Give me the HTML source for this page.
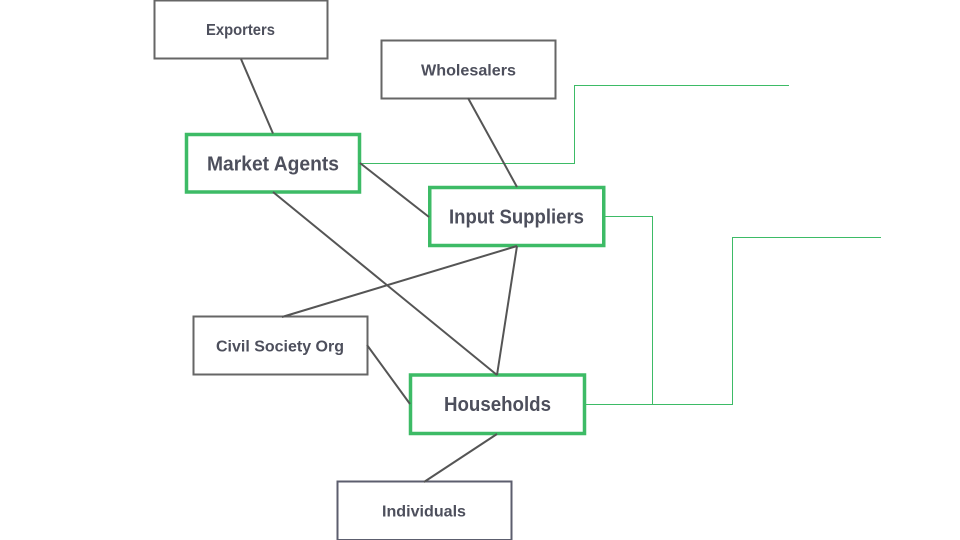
<!DOCTYPE html>
<html><head><meta charset="utf-8"><style>
html,body{margin:0;padding:0;background:#fff;width:960px;height:540px;overflow:hidden}
svg{display:block}
text{font-family:"Liberation Sans",sans-serif;font-weight:700;fill:#4d4f5c;text-anchor:middle}
.s{font-size:16px}.b{font-size:20.500px}
.g{fill:#fff;stroke:#666;stroke-width:2}
.h{fill:#fff;stroke:#3dbb66;stroke-width:3.500}
.l{stroke:#555;stroke-width:2;fill:none}
.t{stroke:#3dbb66;stroke-width:1;fill:none}
</style></head><body>
<svg width="960" height="540" viewBox="0 0 960 540" xmlns="http://www.w3.org/2000/svg">
<path class="t" d="M360 163.500H574.500V85.500H789"/>
<path class="t" d="M604 216.500H652.500V404"/>
<path class="t" d="M585 404.500H732.500V237.500H881"/>
<rect class="g" x="154.500" y="0.500" width="173" height="58"/>
<rect class="g" x="381.500" y="40.500" width="174" height="58"/>
<rect class="g" x="193.500" y="316.500" width="174" height="58"/>
<rect class="g" x="337.500" y="481.500" width="174" height="58.500" style="stroke:#5c5e6e"/>
<rect class="h" x="186.500" y="134.500" width="173" height="57.500"/>
<rect class="h" x="429.750" y="187.500" width="174" height="58"/>
<rect class="h" x="410.500" y="375" width="174" height="58.500"/>
<path class="l" d="M241 59L273 133.500M468 98L517 187M360 163L429 217M273 192L497 375M517 246L282 317M517 246L497 375M367 345L410 404M497 434L424 482"/>
<text class="s" x="240.500" y="35" textLength="69" lengthAdjust="spacingAndGlyphs">Exporters</text>
<text class="s" x="468.500" y="75.500" textLength="95" lengthAdjust="spacingAndGlyphs">Wholesalers</text>
<text class="s" x="280" y="351.500" textLength="128" lengthAdjust="spacingAndGlyphs">Civil Society Org</text>
<text class="s" x="424" y="516.500" textLength="84" lengthAdjust="spacingAndGlyphs">Individuals</text>
<text class="b" x="273" y="170.500" textLength="132" lengthAdjust="spacingAndGlyphs">Market Agents</text>
<text class="b" x="516.500" y="223.500" textLength="135" lengthAdjust="spacingAndGlyphs">Input Suppliers</text>
<text class="b" x="497.500" y="411" textLength="107" lengthAdjust="spacingAndGlyphs">Households</text>
</svg>
</body></html>
